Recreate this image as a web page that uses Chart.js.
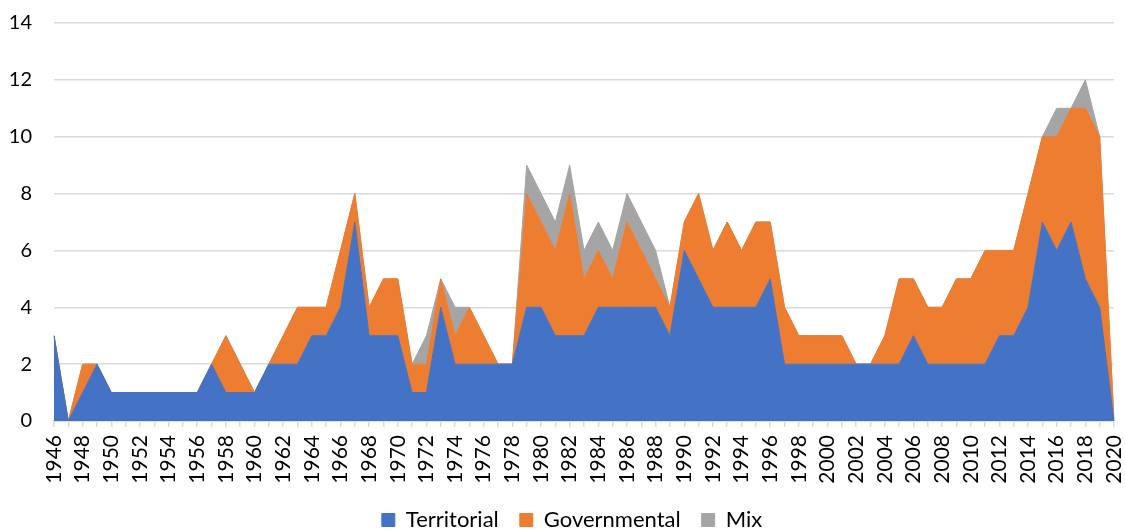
<!DOCTYPE html>
<html>
<head>
<meta charset="utf-8">
<script src="https://cdn.jsdelivr.net/npm/chart.js@4/dist/chart.umd.min.js"></script>
<style>
html,body{margin:0;padding:0;background:#fff;}
#wrap{width:1125px;height:531px;position:relative;}
</style>
</head>
<body>
<div id="wrap"><canvas id="c"></canvas></div>
<script>
const years = [
  '1946','1947','1948','1949','1950','1951','1952','1953','1954','1955',
  '1956','1957','1958','1959','1960','1961','1962','1963','1964','1965',
  '1966','1967','1968','1969','1970','1971','1972','1973','1974','1975',
  '1976','1977','1978','1979','1980','1981','1982','1983','1984','1985',
  '1986','1987','1988','1989','1990','1991','1992','1993','1994','1995',
  '1996','1997','1998','1999','2000','2001','2002','2003','2004','2005',
  '2006','2007','2008','2009','2010','2011','2012','2013','2014','2015',
  '2016','2017','2018','2019','2020'
];
const territorial = [
  3,0,1,2,1,1,1,1,1,1,
  1,2,1,1,1,2,2,2,3,3,
  4,7,3,3,3,1,1,4,2,2,
  2,2,2,4,4,3,3,3,4,4,
  4,4,4,3,6,5,4,4,4,4,
  5,2,2,2,2,2,2,2,2,2,
  3,2,2,2,2,2,3,3,4,7,
  6,7,5,4,0
];
const governmental = [
  0,0,1,0,0,0,0,0,0,0,
  0,0,2,1,0,0,1,2,1,1,
  2,1,1,2,2,1,1,1,1,2,
  1,0,0,4,3,3,5,2,2,1,
  3,2,1,1,1,3,2,3,2,3,
  2,2,1,1,1,1,0,0,1,3,
  2,2,2,3,3,4,3,3,4,3,
  4,4,6,6,0
];
const mix = [
  0,0,0,0,0,0,0,0,0,0,
  0,0,0,0,0,0,0,0,0,0,
  0,0,0,0,0,0,1,0,1,0,
  0,0,0,1,1,1,1,1,1,1,
  1,1,1,0,0,0,0,0,0,0,
  0,0,0,0,0,0,0,0,0,0,
  0,0,0,0,0,0,0,0,0,0,
  1,0,1,0,0
];
const yTicks = [0,2,4,6,8,10,12,14];

const FONT = "Lato, 'DejaVu Sans', sans-serif";
const blue = '#4472C4', orange = '#ED7D31', grey = '#A5A5A5';

new Chart(document.getElementById('c'), {
  type: 'line',
  data: {
    labels: years,
    datasets: [
      {label:'Territorial', data: territorial, backgroundColor: blue, borderColor: blue, fill:'origin'},
      {label:'Governmental', data: governmental, backgroundColor: orange, borderColor: orange, fill:'-1'},
      {label:'Mix', data: mix, backgroundColor: grey, borderColor: grey, fill:'-1'}
    ]
  },
  options: {
    responsive: true,
    maintainAspectRatio: false,
    animation: false,
    devicePixelRatio: 1,
    elements: { point: { radius: 0, hoverRadius: 0 }, line: { borderWidth: 1, tension: 0 } },
    layout: { padding: { left: 0, right: -19, top: 23, bottom: -10 } },
    plugins: {
      tooltip: { enabled: false },
      legend: {
        position: 'bottom',
        labels: {
          color: '#000',
          font: { family: FONT, size: 22 },
          boxWidth: 13, boxHeight: 13,
          padding: 21
        }
      }
    },
    scales: {
      x: {
        stacked: true,
        offset: false,
        grid: { display: true, drawOnChartArea: false, drawTicks: true, tickLength: 6, color: '#d9d9d9', lineWidth: 1.5 },
        border: { display: true, color: '#d9d9d9', width: 1.5 },
        ticks: {
          autoSkip: false,
          maxRotation: 90, minRotation: 90,
          color: '#000',
          font: { family: FONT, size: 21 },
          padding: 8,
          callback: function(v, i) { return i % 2 === 0 ? years[i] : ''; }
        },
        afterFit: function(s) { s.height = 67; s.paddingRight = 11; s.paddingLeft = 0; }
      },
      y: {
        stacked: true,
        min: 0, max: 14,
        afterBuildTicks: function(s) { s.ticks = yTicks.map(v => ({ value: v })); },
        grid: { color: '#d9d9d9', lineWidth: 1.5, drawTicks: false },
        border: { display: false },
        ticks: { color: '#000', font: { family: FONT, size: 20 }, padding: 22 },
        afterFit: function(s) { s.width = 54; s.paddingTop = 0; s.paddingBottom = 0; }
      }
    }
  }
});
</script>
</body>
</html>
